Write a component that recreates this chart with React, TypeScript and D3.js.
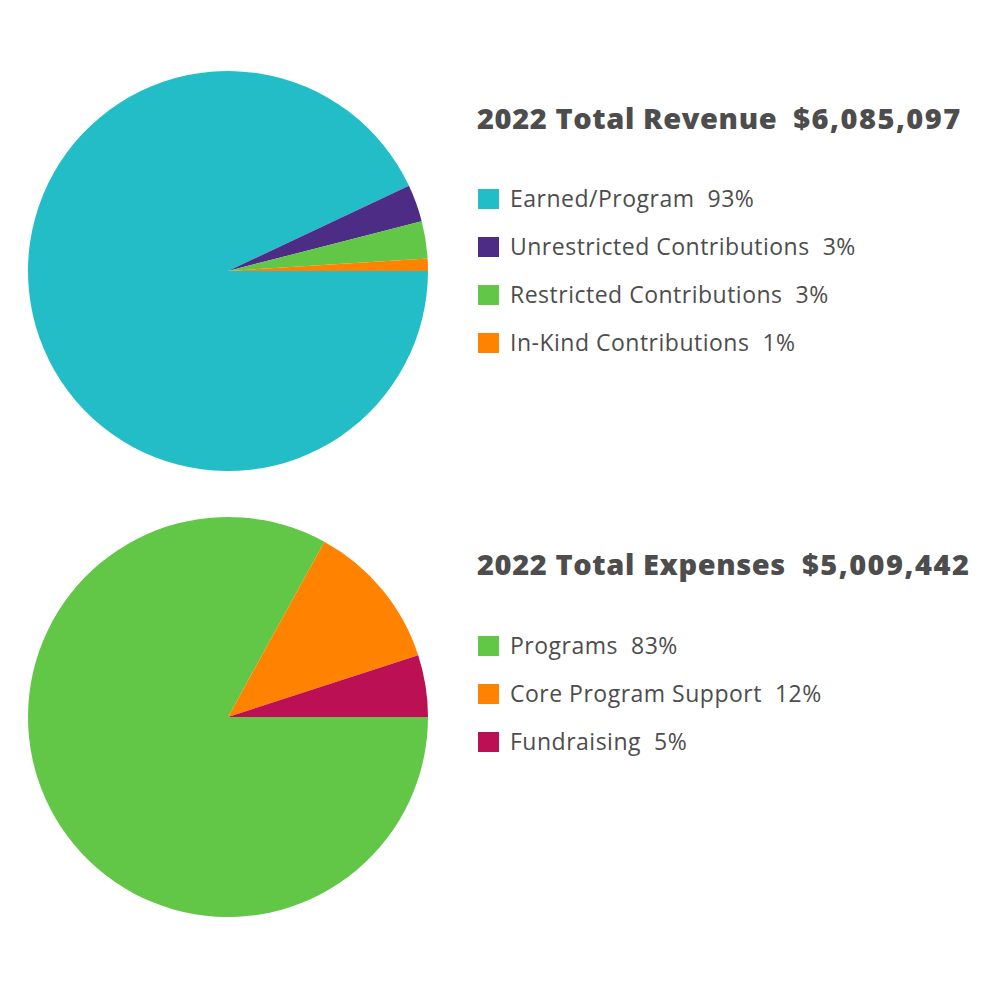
import React from "react";
import * as d3 from "d3";

const revenueCategories = ["Earned/Program", "Unrestricted Contributions", "Restricted Contributions", "In-Kind Contributions"];
const revenueValues = [93, 3, 3, 1];
const revenueColors = ["#23BDC8", "#4C2C84", "#62C646", "#FF8300"];
const revenueTitle = "2022 Total Revenue";
const revenueTotal = "$6,085,097";

const expenseCategories = ["Programs", "Core Program Support", "Fundraising"];
const expenseValues = [83, 12, 5];
const expenseColors = ["#62C646", "#FF8300", "#BB1054"];
const expenseTitle = "2022 Total Expenses";
const expenseTotal = "$5,009,442";

const FONT = "'Open Sans', Lato, sans-serif";
const TEXT = "#4d4d4d";

function PieBlock({ cx, cy, r, cats, vals, colors, title, total, titleY, legendY }) {
  const pie = d3.pie<number>().sort(null).value((d) => d).startAngle(Math.PI / 2).endAngle(Math.PI / 2 + 2 * Math.PI);
  const arc = d3.arc<d3.PieArcDatum<number>>().innerRadius(0).outerRadius(r);
  const arcs = pie(vals);
  return (
    <g>
      <g transform={`translate(${cx},${cy})`}>
        {arcs.map((a, i) => (
          <path key={i} d={arc(a) || ""} fill={colors[i]} />
        ))}
      </g>
      <text x={477} y={titleY} fontFamily={FONT} fontWeight={800} fontSize={29} fill={TEXT} letterSpacing={0.6}>
        {title}
        <tspan dx={16} letterSpacing={1.5}>{total}</tspan>
      </text>
      {cats.map((c, i) => (
        <g key={c} transform={`translate(478,${legendY + i * 48})`}>
          <rect x={0} y={-10} width={21} height={20} fill={colors[i]} />
          <text x={32} y={8} fontFamily={FONT} fontSize={23} fill={TEXT} letterSpacing={0.5}>
            {c}
            <tspan dx={13}>{vals[i]}%</tspan>
          </text>
        </g>
      ))}
    </g>
  );
}

export default function App() {
  return (
    <svg width={1000} height={1000} style={{ position: "absolute", left: 0, top: 0, background: "#fff" }}>
      <rect width={1000} height={1000} fill="#fff" />
      <PieBlock cx={228} cy={271} r={200} cats={revenueCategories} vals={revenueValues} colors={revenueColors}
        title={revenueTitle} total={revenueTotal} titleY={129} legendY={199} />
      <PieBlock cx={228} cy={717} r={200} cats={expenseCategories} vals={expenseValues} colors={expenseColors}
        title={expenseTitle} total={expenseTotal} titleY={575} legendY={646} />
    </svg>
  );
}
